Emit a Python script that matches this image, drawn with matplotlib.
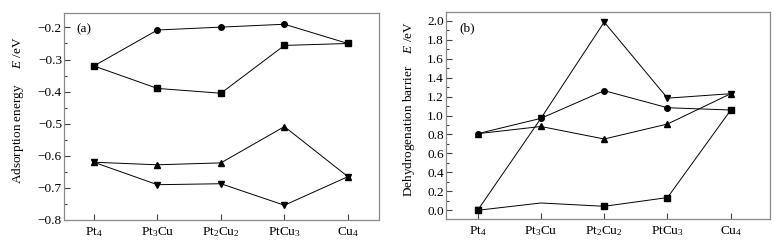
import matplotlib
matplotlib.use("Agg")
import matplotlib.pyplot as plt
from matplotlib.ticker import MultipleLocator

plt.rcParams['font.family'] = ['Liberation Serif', 'DejaVu Serif']
plt.rcParams['mathtext.fontset'] = 'custom'
plt.rcParams['mathtext.rm'] = 'Liberation Serif'
plt.rcParams['mathtext.it'] = 'Liberation Serif:italic'

categories = [r'$\mathrm{Pt_4}$', r'$\mathrm{Pt_3Cu}$', r'$\mathrm{Pt_2Cu_2}$',
              r'$\mathrm{PtCu_3}$', r'$\mathrm{Cu_4}$']

# Panel (a): adsorption energy, eV
ads_circle = [-0.320, -0.208, -0.199, -0.190, -0.250]
ads_square = [-0.320, -0.390, -0.405, -0.256, -0.250]
ads_tri_up = [-0.620, -0.628, -0.622, -0.509, -0.665]
ads_tri_down = [-0.620, -0.690, -0.687, -0.754, -0.665]

# Panel (b): dehydrogenation barrier, eV
bar_circle = [0.808, 0.970, 1.262, 1.082, 1.058]
bar_square = [0.000, 0.077, 0.042, 0.134, 1.058]
bar_tri_up = [0.808, 0.884, 0.752, 0.910, 1.230]
bar_tri_down = [0.000, 0.970, 1.986, 1.183, 1.230]

FS = 9.5
fig = plt.figure(figsize=(7.77, 2.5), dpi=100)
axa = fig.add_axes([0.0824, 0.12, 0.4054, 0.828])
axb = fig.add_axes([0.574, 0.124, 0.417, 0.828])

x = list(range(len(categories)))
lw = 0.7
ms = 4

def style(ax):
    for s in ax.spines.values():
        s.set_color('#8a8a8a')
        s.set_linewidth(0.9)
    ax.tick_params(axis='both', which='both', direction='in', colors='#444444',
                   labelcolor='black', labelsize=FS)
    ax.tick_params(axis='y', which='major', length=4, width=0.8, pad=1.5)
    ax.tick_params(axis='y', which='minor', length=2.5, width=0.8)
    ax.tick_params(axis='x', which='major', length=4, width=0.8, pad=4)
    ax.set_xticks(x)
    ax.set_xticklabels(categories)

kw = dict(color='black', linewidth=lw, markersize=ms)
axa.plot(x, ads_circle, marker='o', **kw)
axa.plot(x, ads_square, marker='s', **kw)
axa.plot(x, ads_tri_up, marker='^', **kw)
axa.plot(x, ads_tri_down, marker='v', **kw)
style(axa)
axa.set_xlim(-0.47, 4.49)
axa.set_ylim(-0.8, -0.155)
axa.yaxis.set_major_locator(MultipleLocator(0.1))
axa.yaxis.set_minor_locator(MultipleLocator(0.05))
axa.set_yticks([-0.8, -0.7, -0.6, -0.5, -0.4, -0.3, -0.2])
axa.set_ylabel('Adsorption energy     $E$ /eV', fontsize=FS)
axa.yaxis.set_label_coords(-0.12, 0.53)
axa.text(0.04, 0.92, '(a)', transform=axa.transAxes, fontsize=FS, va='center')

axb.plot(x, bar_circle, marker='o', **kw)
axb.plot(x, bar_square, marker='s', markevery=[0, 2, 3, 4], **kw)
axb.plot(x, bar_tri_up, marker='^', **kw)
axb.plot(x, bar_tri_down, marker='v', **kw)
style(axb)
axb.set_xlim(-0.5, 4.62)
axb.set_ylim(-0.092, 2.092)
axb.yaxis.set_major_locator(MultipleLocator(0.2))
axb.yaxis.set_minor_locator(MultipleLocator(0.1))
axb.set_yticks([0.0, 0.2, 0.4, 0.6, 0.8, 1.0, 1.2, 1.4, 1.6, 1.8, 2.0])
axb.set_ylabel('Dehydrogenation barrier    $E$ /eV', fontsize=FS)
axb.yaxis.set_label_coords(-0.09, 0.53)
axb.text(0.04, 0.92, '(b)', transform=axb.transAxes, fontsize=FS, va='center')

fig.savefig('out.png', dpi=100)
